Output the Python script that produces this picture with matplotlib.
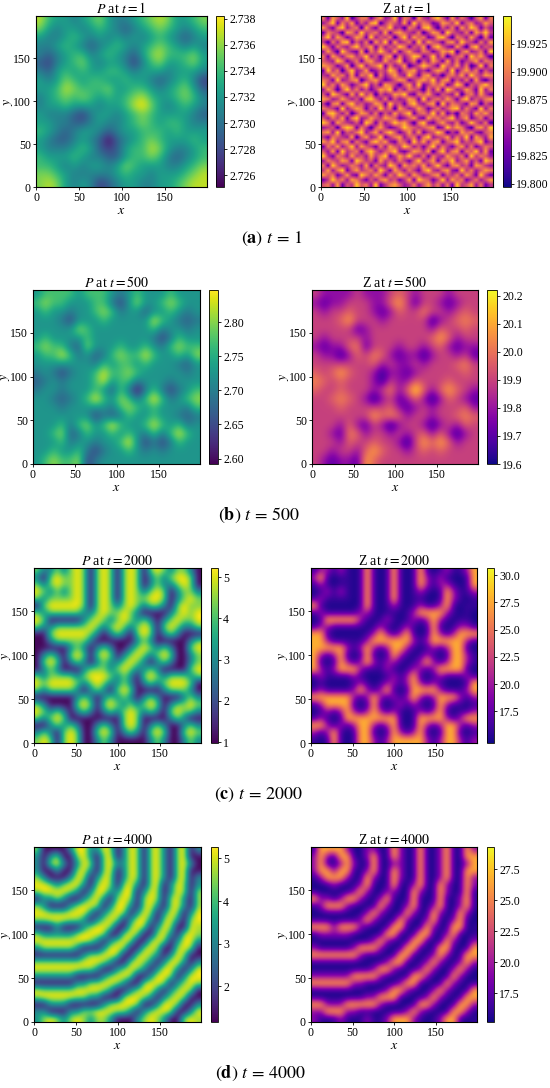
import numpy as np
import matplotlib.pyplot as plt

plt.rcParams['font.family'] = ['Liberation Serif', 'DejaVu Serif']
plt.rcParams['mathtext.fontset'] = 'stix'

# ---- pattern levels (rows top -> bottom, 0 = darkest, 9 = brightest)
p_t1 = [
    "86554567544567875567", "75455456543456765456", "54456545454545654345",
    "44565434565456765454", "43456645654357866675", "32456754554246755675",
    "43565655665455545554", "54576566556554345642", "55687666755665456753",
    "45676765656786556764", "45565554556897545654", "54443245545676555543",
    "55443345445676566544", "65434554345566656555", "54334543034567655565",
    "54445653235668754456", "65556544335667643456", "66545455457655544567",
    "77654444456554555678", "78754542345544556788",
]

z_t1 = [
    "627538146625734826517436852736415726", "358264725378146537284652376482563475",
    "742683561742658341652784153627486253", "265417638456372675436147628543627584",
    "583752476283546158375623784165374162", "416378253617482734628375426738542637",
    "852643684572635486254716853274168354", "374185327164853725743652476815734628",
    "627536745835267163587248361456285741", "543862462674374582461537527362457365",
    "765247158356826347135864285473613826", "284615834723548625673425763825746253",
    "437563726581635743852673415647385476", "652834671467423576246758367253627314",
    "846375246835276415738246572486154685", "375158463524768253654163728634752836",
    "528642738461534768326574254371563742", "763475352785362534762835647526835467",
    "416726845347628452684367183654276153", "654283576253846175347524635783642836",
    "278536147636253746825648372416537574", "536472683475476523573275646835724625",
    "862754352862635867416832574362485361", "345168726415742358654567238576316748",
    "673825468357368524737245861427563256", "426543715734824673562683457364827537",
    "758367264268573265284736725683546824", "264735837542637548635258364257362465",
    "537284562685356832476471583672658372", "842653745374682475843626437546284653",
    "365476286452745364258357265835735286", "628534653726438627564735842674527643",
    "473682574563852753642684367328463576", "756247328647526486375346725463752842",
    "248563764253674524728652483756246357", "563725485638246753463574636284573624",
]

# t = 500: P level; Z shows the same spots with light and dark swapped
pz_t500 = [
    "56666566654565556555", "67665556642575567655", "56554556764553556545",
    "55542555655555865434", "55555765555555645545", "56555565555555424655",
    "67664375556556546766", "56686453467668655657", "55555554656656555435",
    "45424556866765555545", "34545556856645554555", "45545556536404642456",
    "55434569657646964567", "55545555546765655546", "55555552434655655434",
    "55564675696556865645", "55673465565654646865", "55564554556952424655",
    "55655642455654545555", "56766724555555555555",
]

pz_t2000 = [
    "6336369616961696169636631", "3169669616961696136369961", "6369669616961696136336961",
    "9636369616961696369613663", "6366669616961696699613696", "1699999616963696366316966",
    "6366666336966963111136969", "9611111369636963631369669", "6336666696369636961696336",
    "1169999963136316961363111", "1136666631111113631111136", "1111136313631136963631169",
    "1363169616961369636961136", "1696136313633696313631136", "1363111366636963363111169",
    "6366663699963631696366636", "9699996369633631363699961", "6366663136316961111366631",
    "1111113631363631363111363", "6311116961696363696136696", "9636313631363696363169663",
    "6369611111111696111136311", "1136363113631696136311363", "3631696116961363169611696",
    "6961696113631111136311363",
]

pz_t4000 = [
    "7111149944971497179417914", "4147117941791497179417911", "4179414971794497179417941",
    "4114117941791497179417911", "7411149714971497179417914", "9974799417971794179149714",
    "7999974149944991497149717", "1447411479417971797179417", "7411147997149941794179417",
    "9977799941479714971497149", "7799977414797149941794179", "1114111479971179714971197",
    "7444447999711797117941797", "9999999974147971179714994", "4777774111499711797117971",
    "1111111477997117974149711", "7777777999741179741499414", "9999999774114797414994149",
    "4444441111479971149971499", "1111114477997411799714797", "9777779999741147994147971",
    "7999997744111799741479711", "1144411111479997114997114", "4411144779997741479971149",
    "4797479747741114797411797",
]

# how bright each level looks in the P and Z panels
p1_frac_of_level = [0.0, 0.08, 0.18, 0.3, 0.44, 0.56, 0.68, 0.8, 0.9, 1.0]
p500_frac_of_level = [0.0, 0.1, 0.2, 0.3, 0.4, 0.52, 0.7, 0.85, 0.95, 1.0]
p_frac_of_level = [0.0, 0.02, 0.2, 0.45, 0.5, 0.6, 0.8, 0.85, 0.93, 1.0]
z_frac_of_level = [0.95, 0.82, 0.6, 0.33, 0.28, 0.2, 0.08, 0.06, 0.03, 0.02]

# colour-bar limits and ticks
p_lim = {1: (2.7251, 2.7382), 500: (2.592, 2.847), 2000: (0.98, 5.22), 4000: (1.16, 5.27)}
z_lim = {1: (19.797, 19.950), 500: (19.60, 20.22), 2000: (14.6, 30.65), 4000: (15.16, 29.3)}
p_ticks = {1: [2.726, 2.728, 2.730, 2.732, 2.734, 2.736, 2.738],
           500: [2.60, 2.65, 2.70, 2.75, 2.80],
           2000: [1, 2, 3, 4, 5], 4000: [2, 3, 4, 5]}
z_ticks = {1: [19.800, 19.825, 19.850, 19.875, 19.900, 19.925],
           500: [19.6, 19.7, 19.8, 19.9, 20.0, 20.1, 20.2],
           2000: [17.5, 20.0, 22.5, 25.0, 27.5, 30.0],
           4000: [17.5, 20.0, 22.5, 25.0, 27.5]}
p_fmt = {1: '%.3f', 500: '%.2f', 2000: '%d', 4000: '%d'}
z_fmt = {1: '%.3f', 500: '%.1f', 2000: '%.1f', 4000: '%.1f'}
times = [1, 500, 2000, 4000]
letters = ['a', 'b', 'c', 'd']


def levels(rows):
    n = min(len(r) for r in rows)
    return np.array([[int(ch) for ch in r[:n]] for r in rows], dtype=int)


def scale(frac, lim):
    return lim[0] + frac * (lim[1] - lim[0])


def lookup(table, lv):
    return np.array(table)[lv]


fields = {}
fields[1] = (scale(lookup(p1_frac_of_level, levels(p_t1)), p_lim[1]),
             scale(levels(z_t1) / 9.0, z_lim[1]))
lv = levels(pz_t500)
pf = lookup(p500_frac_of_level, lv)
fields[500] = (scale(pf, p_lim[500]), scale(1 - pf, z_lim[500]))
for t, grid in [(2000, pz_t2000), (4000, pz_t4000)]:
    lv = levels(grid)
    fields[t] = (scale(lookup(p_frac_of_level, lv), p_lim[t]),
                 scale(lookup(z_frac_of_level, lv), z_lim[t]))
smooth = {1: ('bicubic', 'bilinear'), 500: ('bicubic', 'bicubic'),
          2000: ('bicubic', 'bicubic'), 4000: ('bicubic', 'bicubic')}

W, H = 550, 1088
fig = plt.figure(figsize=(W / 100, H / 100), dpi=100)

# pixel layout of each row: (top, bottom, P left, P right, cbar l, cbar r, Z left, Z right, cbar l, cbar r, caption x, caption y)
layout = [
    (16, 187, 36, 207, 216, 224, 321, 493, 503, 511, 272, 239),
    (290, 464, 33, 200, 209, 218, 312, 478, 487, 497, 259, 515),
    (568, 743, 34, 201, 211, 218, 311, 477, 487, 494, 258, 795),
    (847, 1022, 34, 201, 211, 218, 311, 477, 487, 494, 260, 1073),
]


def add_ax(l, r, top, bot):
    return fig.add_axes([l / W, 1 - bot / H, (r - l) / W, (bot - top) / H])


def draw(ax, cax, field, lim, cmap, title, ticks, fmt, interp):
    im = ax.imshow(field, cmap=cmap, vmin=lim[0], vmax=lim[1], extent=(0, 199, 0, 199),
                   origin='upper', interpolation=interp, aspect='auto')
    ax.set_xticks([0, 50, 100, 150])
    ax.set_yticks([0, 50, 100, 150])
    ax.tick_params(labelsize=8.5, length=2.5, pad=1.2, width=0.6)
    ax.set_title(title, fontsize=10, pad=2.5)
    w_px = ax.get_position().width * W
    h_px = ax.get_position().height * H
    ax.set_xlabel(r'$x$', fontsize=10)
    ax.set_ylabel(r'$y$', fontsize=10)
    ax.xaxis.set_label_coords(0.5, -17 / h_px)
    ax.yaxis.set_label_coords(-21 / w_px, 0.5)
    cb = fig.colorbar(im, cax=cax, ticks=ticks, format=fmt)
    cb.ax.tick_params(labelsize=8.5, length=2.5, pad=1.2, width=0.6)
    cb.outline.set_linewidth(0.6)


for t, letter, row in zip(times, letters, layout):
    top, bot, pl, pr, cl, cr, zl, zr, zcl, zcr, cx, cy = row
    p_field, z_field = fields[t]
    draw(add_ax(pl, pr, top, bot), add_ax(cl, cr, top, bot), p_field, p_lim[t], 'viridis',
         r'$P$ at $t=%d$' % t, p_ticks[t], p_fmt[t], smooth[t][0])
    draw(add_ax(zl, zr, top, bot), add_ax(zcl, zcr, top, bot), z_field, z_lim[t], 'plasma',
         r'Z at $t=%d$' % t, z_ticks[t], z_fmt[t], smooth[t][1])
    fig.text(cx / W, 1 - cy / H, r'$(\mathbf{%s})\ t\,=\,%d$' % (letter, t),
             ha='center', va='center', fontsize=13)

fig.savefig('out.png', dpi=100)
